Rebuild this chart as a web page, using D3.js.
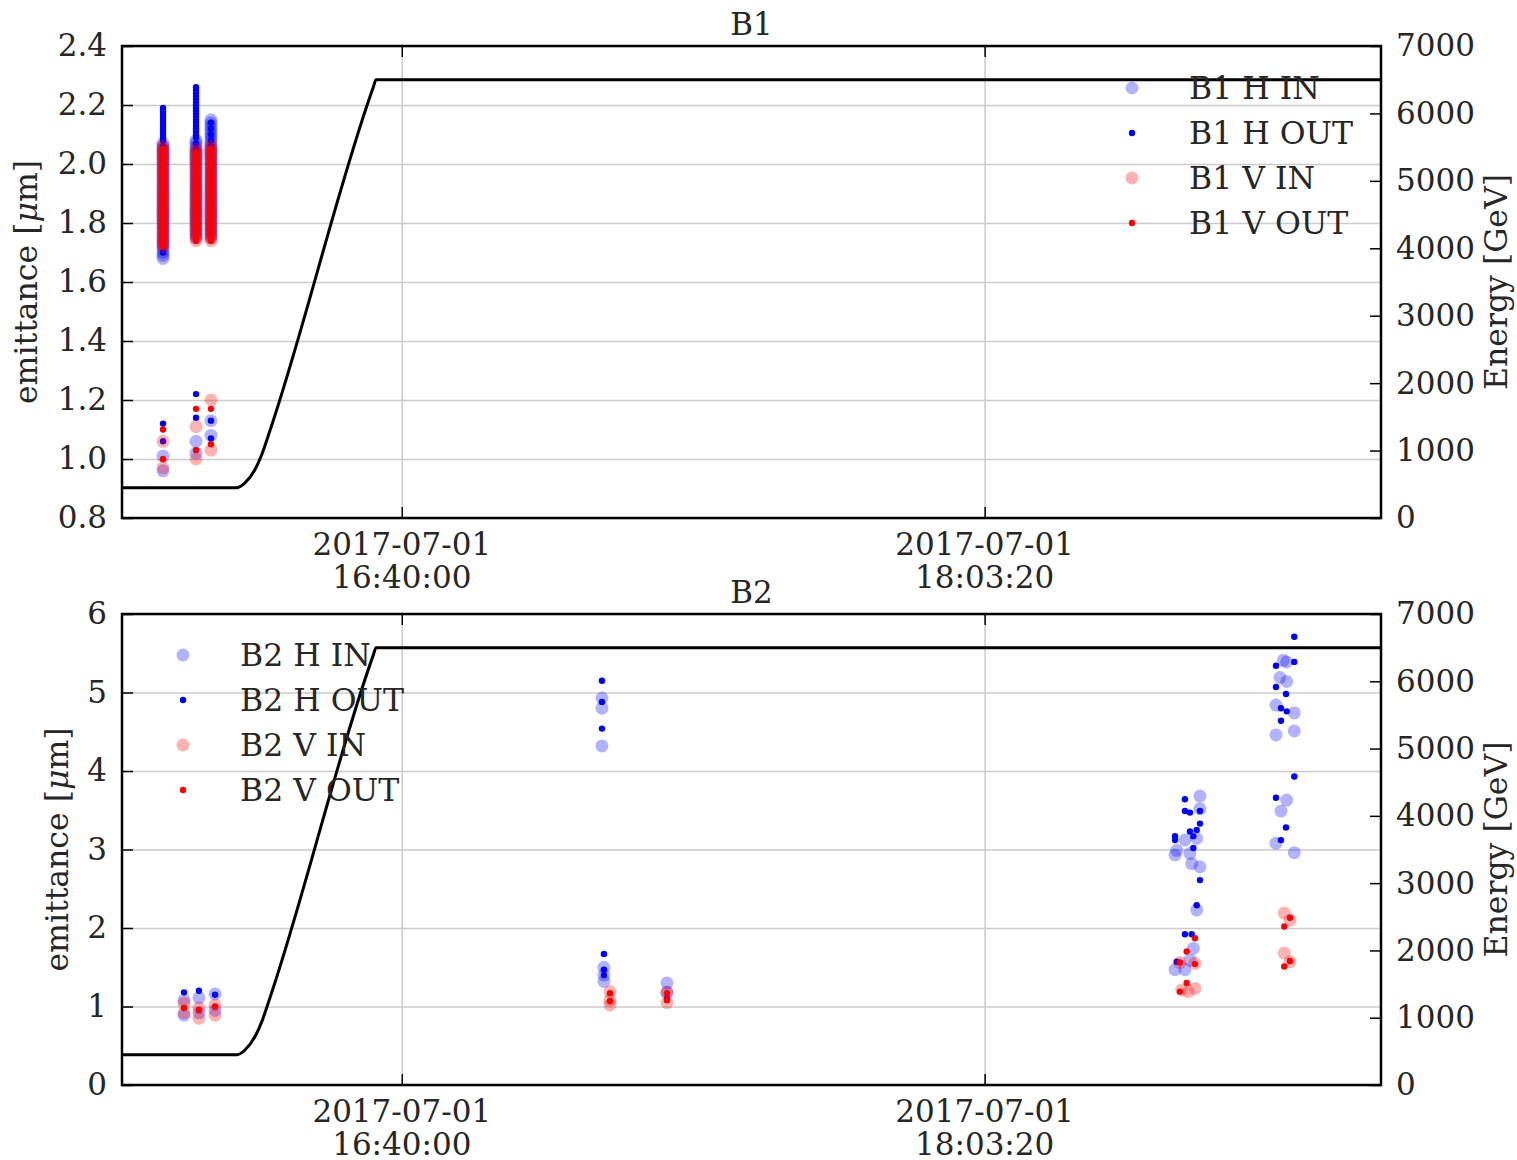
<html>
<head>
<title>Emittance B1 / B2</title>
<script src="https://cdn.jsdelivr.net/npm/d3@7"></script>
<style>
  body { margin: 0; background: #fff; }
  text { font-family: "DejaVu Serif", serif; fill: #262626; }
</style>
</head>
<body>
<svg id="chart" width="1517" height="1160"></svg>
<script>
// time axis
var timeRange = ["16:00:00", "19:00:00"];
var timeTicks = ["16:40:00", "18:03:20"];
var tickDate = "2017-07-01";

// energy ramp (GeV), same for both beams
var energyTimes = ["16:00:00", "16:16:27", "16:17:35", "16:19:01", "16:20:01", "16:21:10", "16:35:58", "16:36:19", "19:00:00"];
var energyValues = [450, 450, 520, 720, 950, 1300, 6400, 6500, 6500];
var energyTicks = [0, 1000, 2000, 3000, 4000, 5000, 6000, 7000];

// B1 emittance [um], grouped by measurement time (bunch by bunch)
var b1Ticks = [0.8, 1.0, 1.2, 1.4, 1.6, 1.8, 2.0, 2.2, 2.4];
var b1HIn = [
  ["16:05:52", [2.07, 2.06, 2.05, 2.04, 2.03, 2.02, 2.01, 2.00, 1.99, 1.98, 1.97, 1.96, 1.95, 1.94, 1.93, 1.92, 1.91, 1.90, 1.89, 1.88, 1.87, 1.86, 1.85, 1.84, 1.83, 1.82, 1.81, 1.80, 1.79, 1.78, 1.77, 1.76, 1.75, 1.74, 1.73, 1.72, 1.71, 1.70, 1.69, 1.68, 1.01, 0.96]],
  ["16:10:35", [2.08, 2.07, 2.06, 2.05, 2.04, 2.03, 2.02, 2.01, 2.00, 1.99, 1.98, 1.97, 1.96, 1.95, 1.94, 1.93, 1.92, 1.91, 1.90, 1.89, 1.88, 1.87, 1.86, 1.85, 1.84, 1.83, 1.82, 1.81, 1.80, 1.79, 1.78, 1.77, 1.76, 1.75, 1.06, 1.02]],
  ["16:12:43", [2.15, 2.14, 2.13, 2.12, 2.11, 2.10, 2.09, 2.08, 2.07, 2.06, 2.05, 2.04, 2.03, 2.02, 2.01, 2.00, 1.99, 1.98, 1.97, 1.96, 1.95, 1.94, 1.93, 1.92, 1.91, 1.90, 1.89, 1.88, 1.87, 1.86, 1.85, 1.84, 1.83, 1.82, 1.81, 1.80, 1.79, 1.78, 1.77, 1.76, 1.75, 1.13, 1.08]]
];
var b1HOut = [
  ["16:05:52", [2.19, 2.18, 2.17, 2.16, 2.15, 2.14, 2.13, 2.12, 2.11, 2.10, 2.09, 2.08, 2.06, 2.04, 2.02, 2.00, 1.98, 1.96, 1.94, 1.92, 1.90, 1.88, 1.86, 1.84, 1.82, 1.80, 1.78, 1.76, 1.74, 1.72, 1.70, 1.12, 1.06]],
  ["16:10:35", [2.26, 2.25, 2.24, 2.23, 2.22, 2.21, 2.20, 2.19, 2.18, 2.17, 2.16, 2.15, 2.14, 2.13, 2.12, 2.11, 2.10, 2.09, 2.07, 2.05, 2.03, 2.01, 1.99, 1.97, 1.95, 1.93, 1.91, 1.89, 1.87, 1.85, 1.83, 1.81, 1.79, 1.77, 1.75, 1.22, 1.14]],
  ["16:12:43", [2.14, 2.12, 2.10, 2.08, 2.06, 2.04, 2.02, 2.00, 1.98, 1.96, 1.94, 1.92, 1.90, 1.88, 1.86, 1.84, 1.82, 1.80, 1.78, 1.76, 1.13, 1.07]]
];
var b1VIn = [
  ["16:05:52", [2.06, 2.05, 2.04, 2.03, 2.02, 2.01, 2.00, 1.99, 1.98, 1.97, 1.96, 1.95, 1.94, 1.93, 1.92, 1.91, 1.90, 1.89, 1.88, 1.87, 1.86, 1.85, 1.84, 1.83, 1.82, 1.81, 1.80, 1.79, 1.78, 1.77, 1.76, 1.75, 1.74, 1.73, 1.72, 1.06, 0.97]],
  ["16:10:35", [2.05, 2.04, 2.03, 2.02, 2.01, 2.00, 1.99, 1.98, 1.97, 1.96, 1.95, 1.94, 1.93, 1.92, 1.91, 1.90, 1.89, 1.88, 1.87, 1.86, 1.85, 1.84, 1.83, 1.82, 1.81, 1.80, 1.79, 1.78, 1.77, 1.76, 1.75, 1.74, 1.11, 1.00]],
  ["16:12:43", [2.06, 2.05, 2.04, 2.03, 2.02, 2.01, 2.00, 1.99, 1.98, 1.97, 1.96, 1.95, 1.94, 1.93, 1.92, 1.91, 1.90, 1.89, 1.88, 1.87, 1.86, 1.85, 1.84, 1.83, 1.82, 1.81, 1.80, 1.79, 1.78, 1.77, 1.76, 1.75, 1.74, 1.20, 1.03]]
];
var b1VOut = [
  ["16:05:52", [2.05, 2.035, 2.02, 2.005, 1.99, 1.975, 1.96, 1.945, 1.93, 1.915, 1.90, 1.885, 1.87, 1.855, 1.84, 1.825, 1.81, 1.795, 1.78, 1.765, 1.75, 1.735, 1.72, 1.10, 1.00]],
  ["16:10:35", [2.04, 2.025, 2.01, 1.995, 1.98, 1.965, 1.95, 1.935, 1.92, 1.905, 1.89, 1.875, 1.86, 1.845, 1.83, 1.815, 1.80, 1.785, 1.77, 1.755, 1.74, 1.17, 1.03]],
  ["16:12:43", [2.05, 2.035, 2.02, 2.005, 1.99, 1.975, 1.96, 1.945, 1.93, 1.915, 1.90, 1.885, 1.87, 1.855, 1.84, 1.825, 1.81, 1.795, 1.78, 1.765, 1.75, 1.74, 1.17, 1.05]]
];

// B2 emittance [um]
var b2Ticks = [0, 1, 2, 3, 4, 5, 6];
var b2HIn = [
  ["16:08:52", [1.08, 0.89]], ["16:11:00", [1.11, 0.92]], ["16:13:18", [1.16, 0.95]],
  ["17:08:37", [4.93, 4.80, 4.32]], ["17:08:54", [1.50, 1.40, 1.32]], ["17:17:55", [1.30, 1.18]],
  ["18:30:33", [2.93, 1.47]], ["18:30:47", [2.99]], ["18:31:58", [3.12, 1.47]], ["18:32:41", [2.95, 1.59]],
  ["18:32:56", [2.82]], ["18:33:10", [1.74]], ["18:33:39", [3.14, 2.23]], ["18:34:07", [3.68, 3.52, 2.78]],
  ["18:44:59", [4.84, 4.46, 3.08]], ["18:45:33", [5.19]], ["18:45:42", [3.49]], ["18:46:02", [5.41]],
  ["18:46:31", [5.39, 5.14, 3.63]], ["18:47:36", [4.74, 4.51, 2.96]]
];
var b2HOut = [
  ["16:08:52", [1.18]], ["16:11:00", [1.20]], ["16:13:18", [1.15]],
  ["17:08:37", [5.15, 4.88, 4.54]], ["17:08:54", [1.67, 1.47, 1.40]], ["17:17:55", [1.10]],
  ["18:30:33", [3.17, 3.12]], ["18:30:47", [1.57]], ["18:31:58", [3.64, 3.49, 1.92]], ["18:32:41", [3.47, 3.23]],
  ["18:32:56", [1.92]], ["18:33:10", [3.17, 3.02]], ["18:33:39", [3.25, 2.29]], ["18:34:07", [3.49, 3.33, 2.61]],
  ["18:44:59", [5.34, 5.07, 3.66]], ["18:45:42", [4.80, 4.64, 3.12]], ["18:46:25", [4.98, 3.28]],
  ["18:46:31", [4.76]], ["18:47:36", [5.71, 5.39, 3.93]]
];
var b2VIn = [
  ["16:08:52", [1.04, 0.92]], ["16:11:00", [0.98, 0.85]], ["16:13:18", [1.02, 0.89]],
  ["17:09:46", [1.19, 1.08, 1.02]], ["17:17:55", [1.18, 1.05]],
  ["18:31:15", [1.56]], ["18:31:30", [1.21]], ["18:32:27", [1.19]], ["18:33:24", [1.55, 1.23]],
  ["18:46:10", [2.19, 1.68]], ["18:46:59", [2.10, 1.57]]
];
var b2VOut = [
  ["16:08:52", [0.98]], ["16:11:00", [0.955]], ["16:13:18", [1.00]],
  ["17:09:46", [1.17, 1.07]], ["17:17:55", [1.17, 1.08]],
  ["18:31:15", [1.56, 1.19]], ["18:32:13", [1.70, 1.30]], ["18:33:24", [1.87, 1.54]],
  ["18:46:10", [2.02, 1.51]], ["18:46:59", [2.13, 1.58]]
];

var parseTime = d3.timeParse("%Y-%m-%d %H:%M:%S");
function tm(s) { return parseTime(tickDate + " " + s); }

function flatten(groups) {
  var out = [];
  groups.forEach(function(g) {
    g[1].forEach(function(v) { out.push({t: tm(g[0]), v: v}); });
  });
  return out;
}

var svg = d3.select("#chart");
var left = 122, right = 1381;

var x = d3.scaleTime()
    .domain(timeRange.map(tm))
    .range([left, right]);

var panels = [
  {title: "B1", top: 46, bottom: 518, ticks: b1Ticks, fmt: d3.format(".1f"), labelX: 26,
   legendX: 1132, legendY: 88,
   series: [["B1 H IN", b1HIn, "blue", "in"], ["B1 H OUT", b1HOut, "blue", "out"],
            ["B1 V IN", b1VIn, "red", "in"], ["B1 V OUT", b1VOut, "red", "out"]]},
  {title: "B2", top: 614, bottom: 1085, ticks: b2Ticks, fmt: d3.format("d"), labelX: 57,
   legendX: 183, legendY: 655,
   series: [["B2 H IN", b2HIn, "blue", "in"], ["B2 H OUT", b2HOut, "blue", "out"],
            ["B2 V IN", b2VIn, "red", "in"], ["B2 V OUT", b2VOut, "red", "out"]]}
];

var marker = {
  "in":  {r: 6.5, opacity: 0.3},
  "out": {r: 3.2, opacity: 1}
};

panels.forEach(function(p, pi) {
  var y = d3.scaleLinear()
      .domain([p.ticks[0], p.ticks[p.ticks.length - 1]])
      .range([p.bottom, p.top]);
  var yE = d3.scaleLinear()
      .domain([energyTicks[0], energyTicks[energyTicks.length - 1]])
      .range([p.bottom, p.top]);

  var g = svg.append("g");

  // grid
  g.append("g")
      .attr("transform", "translate(" + left + ",0)")
      .call(d3.axisLeft(y).tickValues(p.ticks).tickSize(-(right - left)).tickFormat(""))
      .call(function(s) { s.select(".domain").remove(); })
      .selectAll("line").attr("stroke", "#cbcbcb").attr("stroke-width", 1.5);
  g.append("g")
      .attr("transform", "translate(0," + p.bottom + ")")
      .call(d3.axisBottom(x).tickValues(timeTicks.map(tm)).tickSize(-(p.bottom - p.top)).tickFormat(""))
      .call(function(s) { s.select(".domain").remove(); })
      .selectAll("line").attr("stroke", "#cbcbcb").attr("stroke-width", 1.5);

  var clipId = "clip" + pi;
  svg.append("clipPath").attr("id", clipId)
    .append("rect")
      .attr("x", left).attr("y", p.top)
      .attr("width", right - left).attr("height", p.bottom - p.top);

  // scatter
  var plot = g.append("g").attr("clip-path", "url(#" + clipId + ")");
  p.series.forEach(function(s) {
    var m = marker[s[3]];
    plot.append("g")
        .attr("fill", s[2])
        .attr("fill-opacity", m.opacity)
      .selectAll("circle")
      .data(flatten(s[1]))
      .enter().append("circle")
        .attr("cx", function(d) { return x(d.t); })
        .attr("cy", function(d) { return y(d.v); })
        .attr("r", m.r);
  });

  // energy
  var energy = energyTimes.map(function(s, i) { return {t: tm(s), e: energyValues[i]}; });
  plot.append("path")
      .datum(energy)
      .attr("fill", "none")
      .attr("stroke", "#000")
      .attr("stroke-width", 3)
      .attr("d", d3.line()
          .curve(d3.curveMonotoneX)
          .x(function(d) { return x(d.t); })
          .y(function(d) { return yE(d.e); }));

  // axes
  var axisStyle = function(s) {
    s.select(".domain").remove();
    s.attr("font-size", 31).attr("font-family", "DejaVu Serif");
    s.selectAll("line").attr("stroke", "#000").attr("stroke-width", 1.5);
    s.selectAll("text").attr("fill", "#262626");
  };
  g.append("g")
      .attr("transform", "translate(" + left + ",0)")
      .call(d3.axisLeft(y).tickValues(p.ticks).tickFormat(p.fmt).tickSize(-11).tickPadding(15))
      .call(axisStyle);
  g.append("g")
      .attr("transform", "translate(" + right + ",0)")
      .call(d3.axisRight(yE).tickValues(energyTicks).tickFormat(d3.format("d")).tickSize(-11).tickPadding(15))
      .call(axisStyle);
  g.append("g")
      .attr("transform", "translate(0," + p.bottom + ")")
      .call(d3.axisBottom(x).tickValues(timeTicks.map(tm)).tickSize(-11).tickFormat(""))
      .call(axisStyle);
  g.append("g")
      .attr("transform", "translate(0," + p.top + ")")
      .call(d3.axisTop(x).tickValues(timeTicks.map(tm)).tickSize(-11).tickFormat(""))
      .call(axisStyle);

  // two line date labels
  var xl = g.selectAll(".xlab")
      .data(timeTicks)
      .enter().append("text")
      .attr("text-anchor", "middle")
      .attr("font-size", 31);
  xl.append("tspan")
      .attr("x", function(d) { return x(tm(d)); })
      .attr("y", p.bottom + 37)
      .text(tickDate);
  xl.append("tspan")
      .attr("x", function(d) { return x(tm(d)); })
      .attr("y", p.bottom + 70)
      .text(function(d) { return d; });

  // frame
  g.append("rect")
      .attr("x", left).attr("y", p.top)
      .attr("width", right - left).attr("height", p.bottom - p.top)
      .attr("fill", "none")
      .attr("stroke", "#000")
      .attr("stroke-width", 2.5);

  // titles and labels
  g.append("text")
      .attr("x", (left + right) / 2)
      .attr("y", p.top - 11)
      .attr("text-anchor", "middle")
      .attr("font-size", 31)
      .text(p.title);

  var yl = g.append("text")
      .attr("transform", "translate(" + p.labelX + "," + (p.top + p.bottom) / 2 + ") rotate(-90)")
      .attr("text-anchor", "middle")
      .attr("dy", "0.35em")
      .attr("font-size", 31.5);
  yl.append("tspan").text("emittance [");
  yl.append("tspan").attr("font-style", "italic").text("\u03bc");
  yl.append("tspan").text("m]");

  g.append("text")
      .attr("transform", "translate(1496," + (p.top + p.bottom) / 2 + ") rotate(-90)")
      .attr("text-anchor", "middle")
      .attr("dy", "0.35em")
      .attr("font-size", 31.5)
      .text("Energy [GeV]");

  // legend
  var lg = g.append("g")
      .attr("transform", "translate(" + p.legendX + "," + p.legendY + ")");
  var item = lg.selectAll("g")
      .data(p.series)
      .enter().append("g")
      .attr("transform", function(d, i) { return "translate(0," + i * 45 + ")"; });
  item.append("circle")
      .attr("r", function(d) { return marker[d[3]].r; })
      .attr("fill", function(d) { return d[2]; })
      .attr("fill-opacity", function(d) { return marker[d[3]].opacity; });
  item.append("text")
      .attr("x", 57)
      .attr("dy", "0.36em")
      .attr("font-size", 31.5)
      .text(function(d) { return d[0]; });
});
</script>
</body>
</html>
